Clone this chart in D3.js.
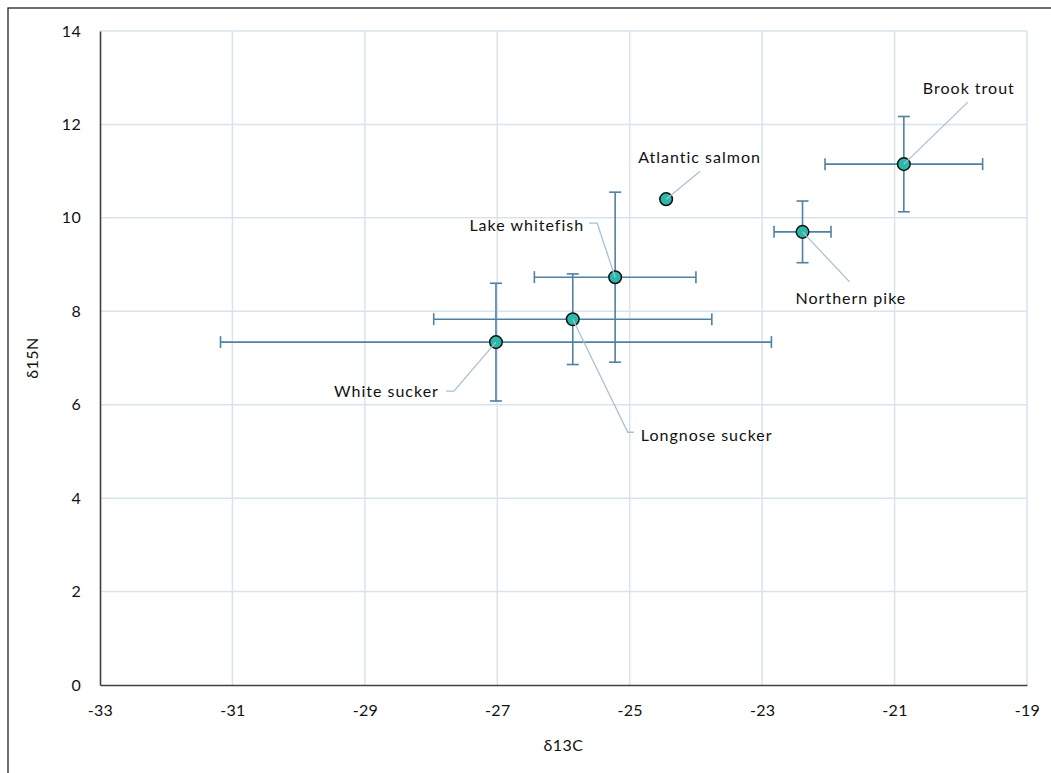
<!DOCTYPE html>
<html>
<head>
<meta charset="utf-8">
<script src="https://cdn.jsdelivr.net/npm/d3@7"></script>
<style>
  html, body { margin: 0; padding: 0; background: #fff; }
  svg { display: block; font-family: Lato, "Open Sans", sans-serif; }
</style>
</head>
<body>
<svg id="chart" width="1051" height="773"></svg>
<script>
// ---- data ----
const species = ["White sucker", "Longnose sucker", "Lake whitefish", "Atlantic salmon", "Northern pike", "Brook trout"];
const d13C    = [-27.02, -25.86, -25.22, -24.45, -22.39, -20.86];
const d15N    = [7.34, 7.83, 8.73, 10.40, 9.70, 11.15];
const d13C_sd = [4.16, 2.10, 1.22, 0, 0.43, 1.19];
const d15N_sd = [1.26, 0.97, 1.82, 0, 0.66, 1.02];
const xTicks  = [-33, -31, -29, -27, -25, -23, -21, -19];
const yTicks  = [0, 2, 4, 6, 8, 10, 12, 14];

// ---- label layout (pixel offsets from each point) ----
const labelLayout = [
  { dx: -57, dy: 49,  anchor: "end",   leader: [[-50, 49], [-42, 49], [0, 0]] },
  { dx: 68,  dy: 116, anchor: "start", leader: [[61, 113], [55, 113], [0, 0]] },
  { dx: -31, dy: -52, anchor: "end",   leader: [[-26, -54], [-18, -54], [0, 0]] },
  { dx: -28, dy: -42, anchor: "start", leader: [[34, -28], [0, 0]] },
  { dx: -7,  dy: 67,  anchor: "start", leader: [[47, 50], [0, 0]] },
  { dx: 19,  dy: -76, anchor: "start", leader: [[64, -62], [0, 0]] }
];

const svg = d3.select("#chart");
const W = 1051, H = 773;
const plot = { left: 100, right: 1027, top: 31, bottom: 685 };
const FS = 16;

// outer frame
svg.append("rect").attr("x", 8).attr("y", 8).attr("width", W + 10).attr("height", H + 10)
  .attr("fill", "none").attr("stroke", "#222").attr("stroke-width", 1.3);

const x = d3.scaleLinear().domain([-33, -19]).range([plot.left, plot.right]);
const y = d3.scaleLinear().domain([0, 14]).range([plot.bottom, plot.top]);

const gridColor = "#d8e3ec";
// grid
svg.append("g").selectAll("line").data(xTicks.slice(1)).join("line")
  .attr("x1", d => x(d)).attr("x2", d => x(d))
  .attr("y1", plot.top).attr("y2", plot.bottom)
  .attr("stroke", gridColor).attr("stroke-width", 1.5);
svg.append("g").selectAll("line").data(yTicks.slice(1)).join("line")
  .attr("x1", plot.left).attr("x2", plot.right)
  .attr("y1", d => y(d)).attr("y2", d => y(d))
  .attr("stroke", gridColor).attr("stroke-width", 1.5);

// axes
const fmt = d => String(d);
const xAxis = d3.axisBottom(x).tickValues(xTicks).tickSize(0).tickPadding(20).tickFormat(fmt);
const yAxis = d3.axisLeft(y).tickValues(yTicks).tickSize(0).tickPadding(19).tickFormat(fmt);
const gx = svg.append("g").attr("transform", `translate(0,${plot.bottom})`).call(xAxis);
const gy = svg.append("g").attr("transform", `translate(${plot.left},0)`).call(yAxis);
[gx, gy].forEach(g => {
  g.select(".domain").attr("stroke", "#404040").attr("stroke-width", 1.6);
  g.selectAll("text").attr("font-size", FS).attr("fill", "#111").attr("font-family", "Lato, sans-serif")
    .attr("letter-spacing", 0.3);
});

// axis titles
svg.append("text").attr("x", (plot.left + plot.right) / 2) .attr("y", 751)
  .attr("text-anchor", "middle").attr("font-size", FS).attr("letter-spacing", 0.5).attr("fill", "#111").text("δ13C");
svg.append("text").attr("transform", `translate(38,${(plot.top + plot.bottom) / 2}) rotate(-90)`)
  .attr("text-anchor", "middle").attr("font-size", FS).attr("letter-spacing", 0.5).attr("fill", "#111").text("δ15N");

const pts = species.map((s, i) => ({ s, x: d13C[i], y: d15N[i], xe: d13C_sd[i], ye: d15N_sd[i], L: labelLayout[i] }));
const errColor = "#4f81a3";
const cap = 6;
const eg = svg.append("g").attr("stroke", errColor).attr("stroke-width", 1.6).attr("fill", "none");
pts.filter(p => p.xe > 0).forEach(p => {
  const px = x(p.x), py = y(p.y);
  const x0 = x(p.x - p.xe), x1 = x(p.x + p.xe);
  const y0 = y(p.y - p.ye), y1 = y(p.y + p.ye);
  eg.append("line").attr("x1", x0).attr("x2", x1).attr("y1", py).attr("y2", py);
  eg.append("line").attr("x1", x0).attr("x2", x0).attr("y1", py - cap).attr("y2", py + cap);
  eg.append("line").attr("x1", x1).attr("x2", x1).attr("y1", py - cap).attr("y2", py + cap);
  eg.append("line").attr("x1", px).attr("x2", px).attr("y1", y0).attr("y2", y1);
  eg.append("line").attr("x1", px - cap).attr("x2", px + cap).attr("y1", y0).attr("y2", y0);
  eg.append("line").attr("x1", px - cap).attr("x2", px + cap).attr("y1", y1).attr("y2", y1);
});

// markers
svg.append("g").selectAll("circle").data(pts).join("circle")
  .attr("cx", d => x(d.x)).attr("cy", d => y(d.y)).attr("r", 6.3)
  .attr("fill", "#2bb7aa").attr("stroke", "#111").attr("stroke-width", 1.5);

// leader lines
const lg = svg.append("g");
pts.forEach(p => {
  const px = x(p.x), py = y(p.y);
  lg.append("polyline")
    .attr("points", p.L.leader.map(([a, b]) => `${px + a},${py + b}`).join(" "))
    .attr("fill", "none").attr("stroke", "#a8c1d3").attr("stroke-width", 1.3);
});

// labels
svg.append("g").selectAll("text").data(pts).join("text")
  .attr("x", d => x(d.x) + d.L.dx).attr("y", d => y(d.y) + d.L.dy)
  .attr("dy", "0.35em").attr("text-anchor", d => d.L.anchor)
  .attr("font-size", FS).attr("letter-spacing", 1).attr("fill", "#111").text(d => d.s);
</script>
</body>
</html>
